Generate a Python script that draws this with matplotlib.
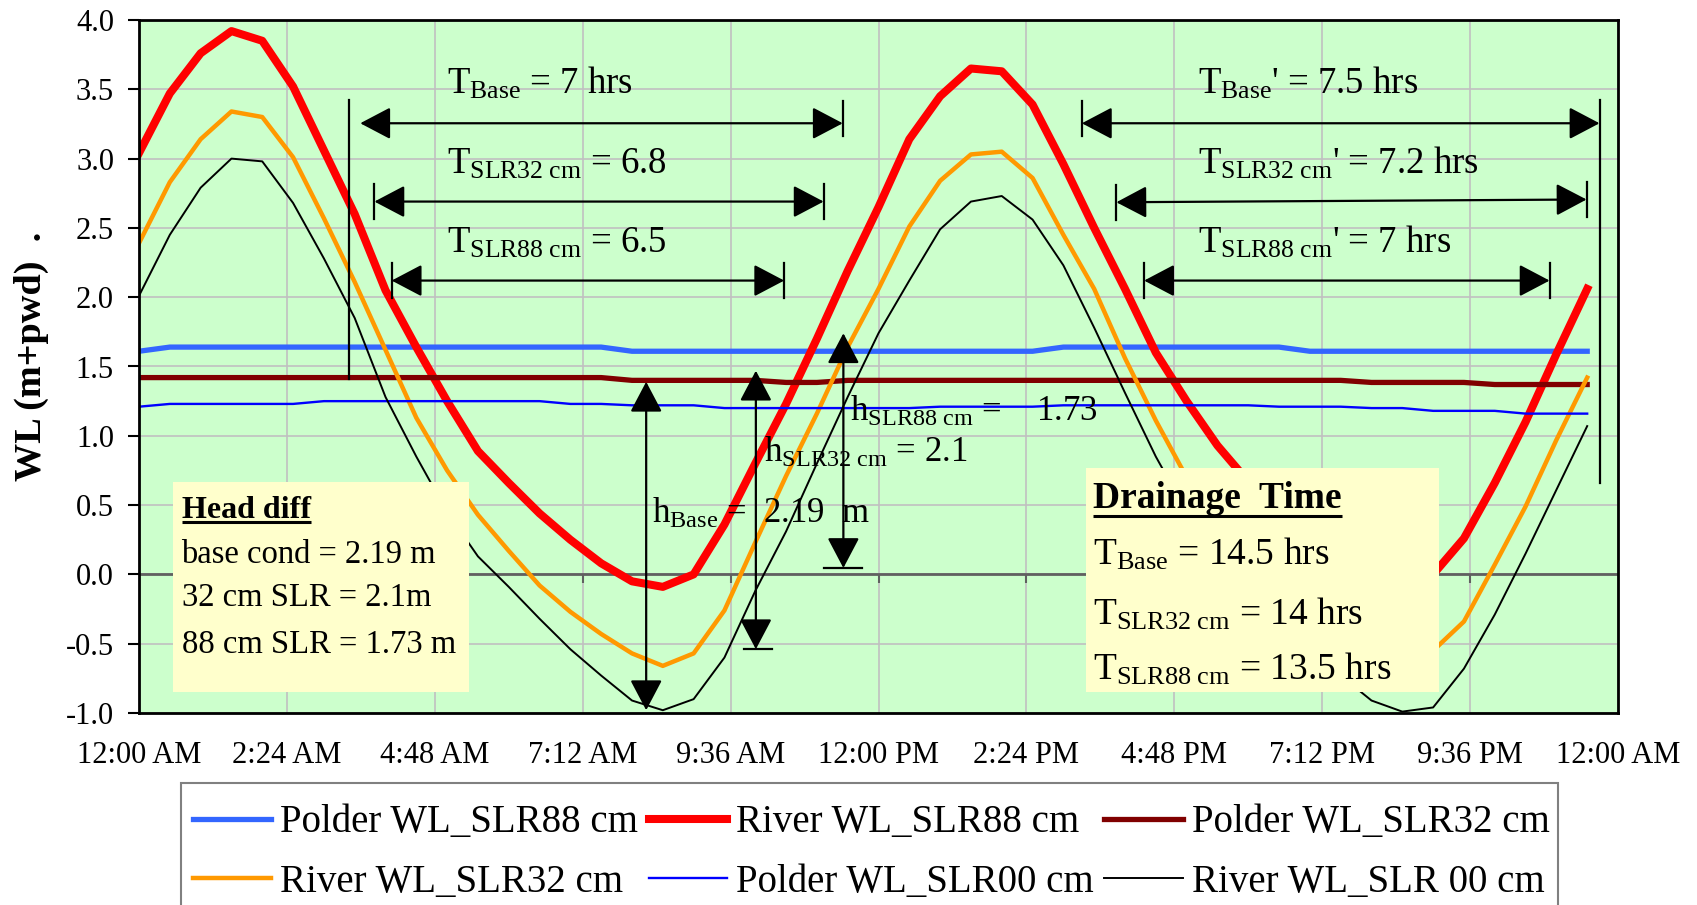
import matplotlib.pyplot as plt
import numpy as np
from matplotlib.patches import Rectangle, FancyArrowPatch

plt.rcParams['font.family'] = 'Liberation Serif'
plt.rcParams['mathtext.fontset'] = 'custom'
plt.rcParams['mathtext.rm'] = 'Liberation Serif'
plt.rcParams['mathtext.it'] = 'Liberation Serif:italic'
plt.rcParams['mathtext.bf'] = 'Liberation Serif:bold'

# half-hourly water levels (m+pwd)
hours = np.arange(0, 24, 0.5)

polder_88 = [1.61, 1.64, 1.64, 1.64, 1.64, 1.64, 1.64, 1.64, 1.64, 1.64, 1.64, 1.64,
             1.64, 1.64, 1.64, 1.64, 1.61, 1.61, 1.61, 1.61, 1.61, 1.61, 1.61, 1.61,
             1.61, 1.61, 1.61, 1.61, 1.61, 1.61, 1.64, 1.64, 1.64, 1.64, 1.64, 1.64,
             1.64, 1.64, 1.61, 1.61, 1.61, 1.61, 1.61, 1.61, 1.61, 1.61, 1.61, 1.61]
river_88 = [3.04, 3.47, 3.76, 3.92, 3.85, 3.52, 3.06, 2.60, 2.05, 1.64, 1.25, 0.89,
            0.66, 0.44, 0.25, 0.08, -0.05, -0.09, 0.00, 0.36, 0.80, 1.23, 1.70, 2.19,
            2.65, 3.14, 3.45, 3.65, 3.63, 3.39, 2.96, 2.50, 2.06, 1.60, 1.25, 0.93,
            0.67, 0.45, 0.25, 0.08, -0.04, -0.10, 0.00, 0.26, 0.66, 1.10, 1.59, 2.06]
polder_32 = [1.42, 1.42, 1.42, 1.42, 1.42, 1.42, 1.42, 1.42, 1.42, 1.42, 1.42, 1.42,
             1.42, 1.42, 1.42, 1.42, 1.40, 1.40, 1.40, 1.40, 1.40, 1.385, 1.385, 1.40,
             1.40, 1.40, 1.40, 1.40, 1.40, 1.40, 1.40, 1.40, 1.40, 1.40, 1.40, 1.40,
             1.40, 1.40, 1.40, 1.40, 1.385, 1.385, 1.385, 1.385, 1.37, 1.37, 1.37, 1.37]
river_32 = [2.39, 2.83, 3.14, 3.34, 3.30, 3.01, 2.57, 2.11, 1.62, 1.13, 0.75, 0.43,
            0.17, -0.08, -0.27, -0.43, -0.57, -0.66, -0.57, -0.26, 0.23, 0.71, 1.16, 1.64,
            2.06, 2.51, 2.84, 3.03, 3.05, 2.86, 2.45, 2.06, 1.56, 1.11, 0.70, 0.40,
            0.15, -0.08, -0.27, -0.43, -0.57, -0.64, -0.55, -0.34, 0.07, 0.49, 0.97, 1.42]
polder_00 = [1.21, 1.23, 1.23, 1.23, 1.23, 1.23, 1.25, 1.25, 1.25, 1.25, 1.25, 1.25,
             1.25, 1.25, 1.23, 1.23, 1.22, 1.22, 1.22, 1.20, 1.20, 1.20, 1.20, 1.20,
             1.20, 1.20, 1.21, 1.21, 1.21, 1.21, 1.22, 1.22, 1.22, 1.22, 1.22, 1.22,
             1.22, 1.21, 1.21, 1.21, 1.20, 1.20, 1.18, 1.18, 1.18, 1.16, 1.16, 1.16]
river_00 = [2.01, 2.45, 2.79, 3.00, 2.98, 2.68, 2.28, 1.85, 1.28, 0.85, 0.45, 0.13,
            -0.09, -0.32, -0.54, -0.73, -0.91, -0.98, -0.90, -0.60, -0.12, 0.31, 0.80, 1.28,
            1.74, 2.12, 2.49, 2.69, 2.73, 2.56, 2.23, 1.78, 1.31, 0.85, 0.45, 0.12,
            -0.10, -0.33, -0.55, -0.73, -0.91, -0.99, -0.96, -0.68, -0.29, 0.15, 0.61, 1.07]

tick_hours = np.linspace(0, 24, 11)
tick_labels = ['12:00 AM', '2:24 AM', '4:48 AM', '7:12 AM', '9:36 AM', '12:00 PM',
               '2:24 PM', '4:48 PM', '7:12 PM', '9:36 PM', '12:00 AM']

W, H = 1697, 905
fig = plt.figure(figsize=(W / 100, H / 100), dpi=100)
ax = fig.add_axes([139 / W, 1 - 713 / H, 1479 / W, 693 / H])
ax.set_facecolor('#CCFFCC')

l_p88, = ax.plot(hours, polder_88, color='#3366FF', lw=3.8, label='Polder WL_SLR88 cm')
l_r88, = ax.plot(hours, river_88, color='#FF0000', lw=5.8, label='River WL_SLR88 cm')
l_p32, = ax.plot(hours, polder_32, color='#800000', lw=3.8, label='Polder WL_SLR32 cm')
l_r32, = ax.plot(hours, river_32, color='#FF9900', lw=3.2, label='River WL_SLR32 cm')
l_p00, = ax.plot(hours, polder_00, color='#0000FF', lw=1.7, label='Polder WL_SLR00 cm')
l_r00, = ax.plot(hours, river_00, color='black', lw=1.4, label='River WL_SLR 00 cm')

ax.set_xlim(0, 24)
ax.set_ylim(-1, 4)
ax.set_xticks(tick_hours, tick_labels)
yt = np.arange(-1, 4.01, 0.5)
ax.set_yticks(yt, ['%.1f' % v for v in yt])
ax.grid(True, color='#C0C0C0', lw=1.2)
ax.set_axisbelow(True)
ax.tick_params(axis='x', length=0, pad=20, labelsize=22)
ax.tick_params(axis='y', length=8, width=1.5, pad=10, labelsize=22)
for s in ax.spines.values():
    s.set_linewidth(2)

# zero line with its small ticks
ax.axhline(0, color='#606060', lw=2, zorder=1.5)
ax.vlines(tick_hours[1:-1], -0.06, 0, color='#606060', lw=1.5, zorder=1.5)

fig.text(31.5 / W, 1 - 356.5 / H, 'WL (m+pwd)  .', rotation=90, ha='center',
         va='center', fontsize=27.5, fontweight='bold')


def arrow(p0, p1):
    ax.add_patch(FancyArrowPatch(p0, p1, arrowstyle='<|-|>,head_length=19,head_width=10',
                                 mutation_scale=1, color='black', lw=1.6,
                                 shrinkA=0, shrinkB=0, zorder=6))


def vbar(x, y, h=0.125):
    ax.plot([x, x], [y - h, y + h], color='black', lw=1.6, zorder=6)


def hbar(x0, x1, y):
    ax.plot([x0, x1], [y, y], color='black', lw=1.6, zorder=6)


# drainage period arrows
ax.plot([3.4, 3.4], [1.41, 3.42], color='black', lw=1.6, zorder=6)
ax.plot([23.71, 23.71], [0.66, 3.42], color='black', lw=1.6, zorder=6)
arrow((3.59, 3.255), (11.42, 3.255)); vbar(11.42, 3.29)
arrow((3.82, 2.69), (11.11, 2.69)); vbar(3.82, 2.69); vbar(11.11, 2.69)
arrow((4.10, 2.12), (10.47, 2.12)); vbar(4.10, 2.12); vbar(10.47, 2.12)
arrow((15.30, 3.255), (23.70, 3.255)); vbar(15.30, 3.29)
arrow((15.86, 2.685), (23.49, 2.705)); vbar(15.86, 2.685); vbar(23.49, 2.705)
arrow((16.31, 2.12), (22.89, 2.12)); vbar(16.31, 2.12); vbar(22.89, 2.12)

# head difference arrows
arrow((8.23, 1.39), (8.23, -0.98))
arrow((10.01, 1.47), (10.01, -0.54)); hbar(9.81, 10.27, -0.54)
arrow((11.43, 1.74), (11.43, 0.046)); hbar(11.11, 11.73, 0.046)

tk = dict(fontsize=26.5, va='baseline', zorder=7)
ax.text(4.99, 3.47, r'T$_{\mathrm{Base}}$ = 7 hrs', **tk)
ax.text(4.99, 2.89, r'T$_{\mathrm{SLR32\ cm}}$ = 6.8', **tk)
ax.text(4.99, 2.32, r'T$_{\mathrm{SLR88\ cm}}$ = 6.5', **tk)
ax.text(17.18, 3.47, r"T$_{\mathrm{Base}}$' = 7.5 hrs", **tk)
ax.text(17.18, 2.89, r"T$_{\mathrm{SLR32\ cm}}$' = 7.2 hrs", **tk)
ax.text(17.18, 2.32, r"T$_{\mathrm{SLR88\ cm}}$' = 7 hrs", **tk)

hk = dict(fontsize=25, va='baseline', zorder=7)
ax.text(11.54, 1.11, r'h$_{\mathrm{SLR88\ cm}}$ =    1.73', **hk)
ax.text(10.14, 0.81, r'h$_{\mathrm{SLR32\ cm}}$ = 2.1', **hk)
ax.text(8.32, 0.37, r'h$_{\mathrm{Base}}$ =  2.19  m', **hk)

# note boxes
ax.add_patch(Rectangle((0.556, -0.846), 5.35 - 0.556, 0.667 + 0.846,
                       facecolor='#FFFFCC', edgecolor='none', zorder=4))
ax.add_patch(Rectangle((15.36, -0.846), 21.1 - 15.36, 0.77 + 0.846,
                       facecolor='#FFFFCC', edgecolor='none', zorder=4))

t_head = ax.text(0.69, 0.405, 'Head diff', fontsize=23, fontweight='bold', va='baseline', zorder=7)
bk = dict(fontsize=23.5, va='baseline', zorder=7)
ax.text(0.69, 0.085, 'base cond = 2.19 m', **bk)
ax.text(0.69, -0.225, '32 cm SLR = 2.1m', **bk)
ax.text(0.69, -0.57, '88 cm SLR = 1.73 m', **bk)

t_drain = ax.text(15.48, 0.48, 'Drainage  Time', fontsize=27, fontweight='bold', va='baseline', zorder=7)
dk = dict(fontsize=27, va='baseline', zorder=7)
ax.text(15.48, 0.07, r'T$_{\mathrm{Base}}$ = 14.5 hrs', **dk)
ax.text(15.48, -0.36, r'T$_{\mathrm{SLR32\ cm}}$ = 14 hrs', **dk)
ax.text(15.48, -0.76, r'T$_{\mathrm{SLR88\ cm}}$ = 13.5 hrs', **dk)

# underline the two box titles
fig.canvas.draw()
rend = fig.canvas.get_renderer()
inv = ax.transData.inverted()
for t, off in [(t_head, 4), (t_drain, 8)]:
    bb = t.get_window_extent(rend)
    yb = ax.transData.transform(t.get_position())[1] - off
    (x0, y0), (x1, _) = inv.transform([(bb.x0, yb), (bb.x1, yb)])
    ax.plot([x0, x1], [y0, y0], color='black', lw=2.2, zorder=7, solid_capstyle='butt')

# legend: entries without frame, frame drawn separately (it runs off the bottom)
handles = [l_p88, l_r32, l_r88, l_p00, l_p32, l_r00]
fs = 28
pad = 0.55
fig.legend(handles=handles, labels=[h.get_label() for h in handles],
           loc='upper left', bbox_to_anchor=((192.5 - pad * fs * 100 / 72) / W, 1 - 783 / H),
           ncol=3, fontsize=fs, frameon=False, borderaxespad=0, borderpad=pad,
           handlelength=2.03, handletextpad=0.23, columnspacing=0.26, labelspacing=0.58)
fig.add_artist(Rectangle((181 / W, -20 / H), (1558 - 181) / W, (905 + 20 - 783) / H,
                         transform=fig.transFigure, facecolor='none',
                         edgecolor='#808080', lw=1.5))

fig.savefig('out.png', dpi=100)
